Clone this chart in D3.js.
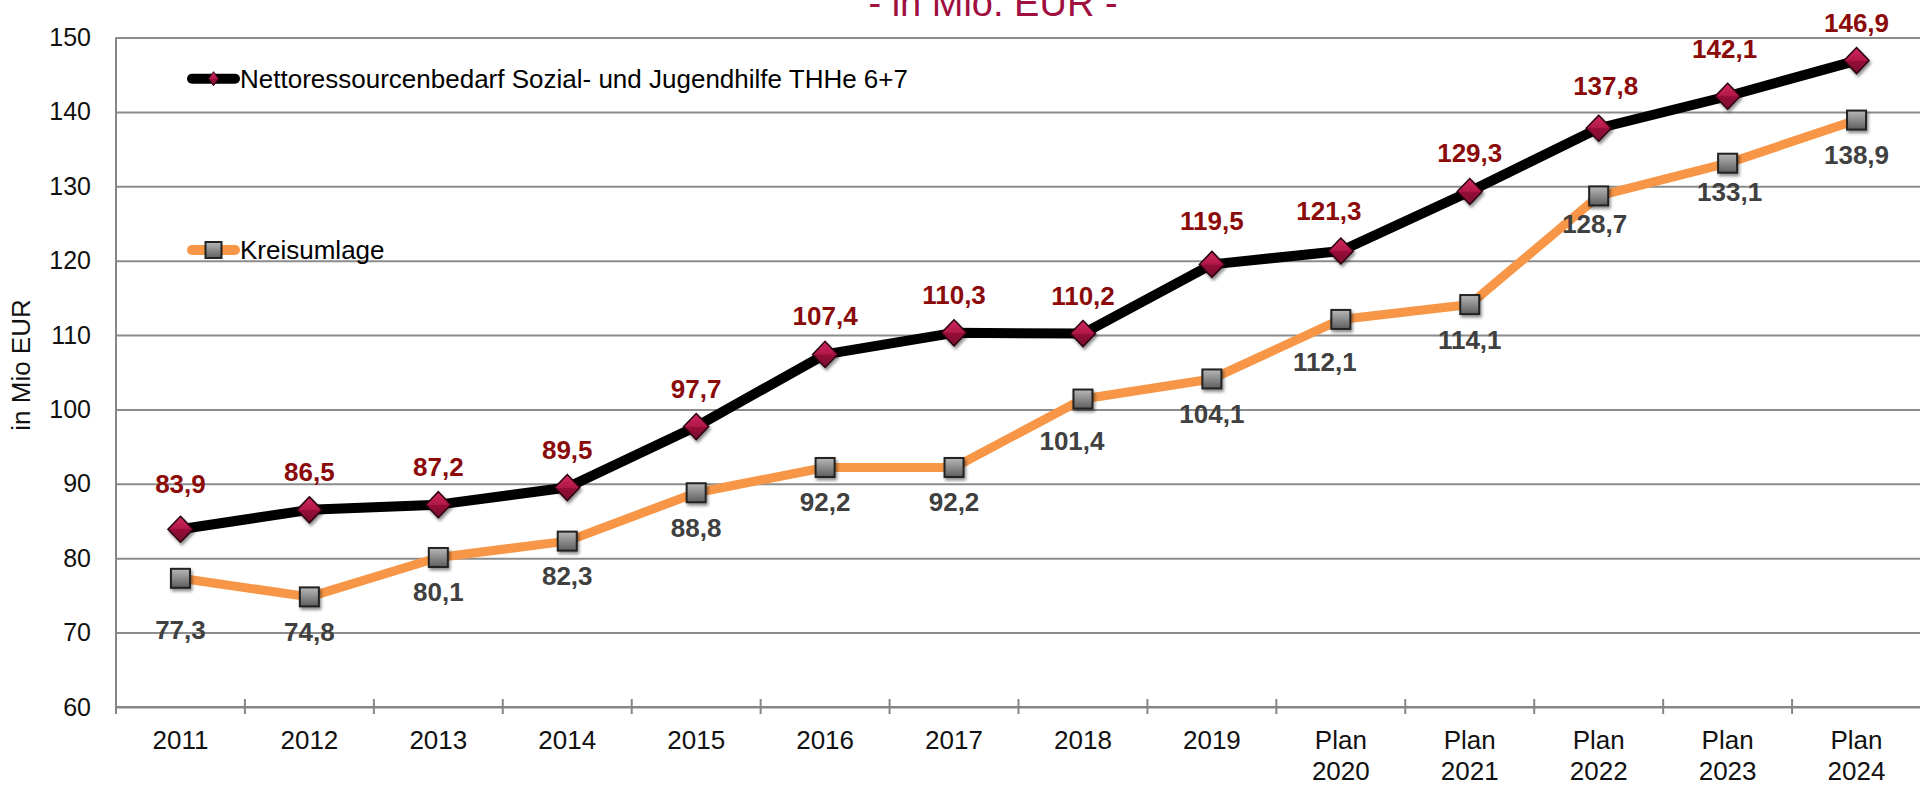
<!DOCTYPE html>
<html>
<head>
<meta charset="utf-8">
<script src="https://cdn.jsdelivr.net/npm/d3@7"></script>
<style>
  body { margin: 0; background: #fff; }
  text { font-family: "Liberation Sans", Arial, sans-serif; }
</style>
</head>
<body>
<div id="chart"></div>
<script>
// chart data
const categories = ["2011", "2012", "2013", "2014", "2015", "2016", "2017", "2018", "2019",
    "Plan 2020", "Plan 2021", "Plan 2022", "Plan 2023", "Plan 2024"];
const nettoValues = [83.9, 86.5, 87.2, 89.5, 97.7, 107.4, 110.3, 110.2, 119.5, 121.3, 129.3, 137.8, 142.1, 146.9];
const kreisValues = [77.3, 74.8, 80.1, 82.3, 88.8, 92.2, 92.2, 101.4, 104.1, 112.1, 114.1, 128.7, 133.1, 138.9];
const yTicks = [60, 70, 80, 90, 100, 110, 120, 130, 140, 150];
const seriesNames = ["Nettoressourcenbedarf Sozial- und Jugendhilfe THHe 6+7", "Kreisumlage"];
const titleText = "- in Mio. EUR -";
const yTitle = "in Mio EUR";

// label tweaks (the original labels were moved by hand here and there)
const nettoNudge = { "2011": [0, -7], "2019": [0, -5], "Plan 2020": [-12, -2], "Plan 2022": [7, -4], "Plan 2023": [-3, -9] };
const kreisNudge = { "2011": [0, 17], "2018": [-11, 7], "Plan 2020": [-16, 8], "Plan 2022": [-4, -7], "Plan 2023": [2, -6] };

const width = 1920, height = 785;
const plotL = 116, plotR = 1921, plotT = 37.5, plotB = 707;

const svg = d3.select('#chart').append('svg')
    .attr('width', width)
    .attr('height', height);

const defs = svg.append('defs');
const dia = defs.append('linearGradient').attr('id', 'diaGrad').attr('x1', 0).attr('y1', 0).attr('x2', 0).attr('y2', 1);
dia.append('stop').attr('offset', '0%').attr('stop-color', '#d22a60');
dia.append('stop').attr('offset', '50%').attr('stop-color', '#b01848');
dia.append('stop').attr('offset', '51%').attr('stop-color', '#960f3a');
dia.append('stop').attr('offset', '100%').attr('stop-color', '#7a0a2c');
const sq = defs.append('linearGradient').attr('id', 'sqGrad').attr('x1', 0).attr('y1', 0).attr('x2', 0).attr('y2', 1);
sq.append('stop').attr('offset', '0%').attr('stop-color', '#b8b8b8');
sq.append('stop').attr('offset', '100%').attr('stop-color', '#5e5e5e');
const shadow = defs.append('filter').attr('id', 'shadow')
    .attr('x', '-50%').attr('y', '-50%').attr('width', '200%').attr('height', '200%');
shadow.append('feDropShadow').attr('dx', 1.5).attr('dy', 2.5).attr('stdDeviation', 1.6)
    .attr('flood-color', '#000').attr('flood-opacity', 0.45);

const x = d3.scaleBand().domain(categories).range([plotL, plotR]).padding(0);
const y = d3.scaleLinear().domain([60, 150]).range([plotB, plotT]);
const cx = d => x(d) + x.bandwidth() / 2;
const fmt = v => d3.format('.1f')(v).replace('.', ',');

// gridlines
svg.append('g')
    .attr('transform', `translate(${plotL},0)`)
    .call(d3.axisLeft(y).tickValues(yTicks).tickSize(-(plotR - plotL)).tickFormat(''))
    .call(g => g.select('.domain').remove())
    .call(g => g.selectAll('line').attr('stroke', '#8c8c8c').attr('stroke-width', 2));

// y axis labels
svg.append('g')
    .attr('transform', `translate(${plotL},0)`)
    .call(d3.axisLeft(y).tickValues(yTicks).tickSize(0).tickPadding(25))
    .call(g => g.select('.domain').remove())
    .call(g => g.selectAll('text')
        .attr('font-size', 25).attr('fill', '#111')
        .style('font-family', '"Liberation Sans", Arial, sans-serif'));

// y axis line
svg.append('line')
    .attr('x1', plotL).attr('x2', plotL)
    .attr('y1', plotT).attr('y2', plotB + 7)
    .attr('stroke', '#868686').attr('stroke-width', 2);

// x axis line + crossing ticks at band edges
svg.append('line')
    .attr('x1', plotL).attr('x2', plotR)
    .attr('y1', plotB).attr('y2', plotB)
    .attr('stroke', '#868686').attr('stroke-width', 2);
svg.append('g').selectAll('line')
    .data(categories.slice(1))
    .enter().append('line')
    .attr('x1', d => x(d)).attr('x2', d => x(d))
    .attr('y1', plotB - 8).attr('y2', plotB + 7)
    .attr('stroke', '#868686').attr('stroke-width', 2);

// category labels
const xl = svg.append('g').selectAll('text')
    .data(categories)
    .enter().append('text')
    .attr('text-anchor', 'middle')
    .attr('font-size', 26)
    .attr('fill', '#111')
    .attr('x', d => cx(d))
    .attr('y', plotB + 42);
xl.each(function (d) {
    const parts = d.split(' ');
    const t = d3.select(this);
    parts.forEach((p, i) => {
        t.append('tspan').attr('x', cx(d)).attr('dy', i === 0 ? 0 : 31).text(p);
    });
});

// y title
svg.append('text')
    .attr('transform', 'translate(30,365) rotate(-90)')
    .attr('text-anchor', 'middle')
    .attr('font-size', 26)
    .attr('fill', '#111')
    .text(yTitle);

// chart title (cut at the top edge)
svg.append('text')
    .attr('x', 993).attr('y', 16)
    .attr('text-anchor', 'middle')
    .attr('font-size', 38)
    .attr('fill', '#a0103f')
    .text(titleText);

// lines
const line = (vals) => d3.line()
    .x((d, i) => cx(categories[i]))
    .y(d => y(d))(vals);

svg.append('path')
    .attr('d', line(kreisValues))
    .attr('fill', 'none')
    .attr('stroke', '#f79646')
    .attr('stroke-width', 9)
    .attr('stroke-linejoin', 'round');

svg.append('path')
    .attr('d', line(nettoValues))
    .attr('fill', 'none')
    .attr('stroke', '#000')
    .attr('stroke-width', 10)
    .attr('stroke-linejoin', 'round');

// markers
svg.append('g').selectAll('rect')
    .data(kreisValues)
    .enter().append('rect')
    .attr('x', (d, i) => cx(categories[i]) - 9.5)
    .attr('y', d => y(d) - 9.5)
    .attr('width', 19).attr('height', 19)
    .attr('fill', 'url(#sqGrad)')
    .attr('stroke', '#222')
    .attr('stroke-width', 2)
    .attr('filter', 'url(#shadow)');

svg.append('g').selectAll('path')
    .data(nettoValues)
    .enter().append('path')
    .attr('d', 'M0,-13L12.5,0L0,13L-12.5,0Z')
    .attr('transform', (d, i) => `translate(${cx(categories[i])},${y(d)})`)
    .attr('fill', 'url(#diaGrad)')
    .attr('stroke', '#2a0010')
    .attr('stroke-width', 1.5)
    .attr('filter', 'url(#shadow)');

// data labels
svg.append('g').selectAll('text')
    .data(nettoValues)
    .enter().append('text')
    .attr('text-anchor', 'middle')
    .attr('dominant-baseline', 'central')
    .attr('font-size', 26)
    .attr('font-weight', 'bold')
    .attr('fill', '#8b0a0a')
    .attr('x', (d, i) => cx(categories[i]) + (nettoNudge[categories[i]] || [0, 0])[0])
    .attr('y', (d, i) => y(d) - 38 + (nettoNudge[categories[i]] || [0, 0])[1])
    .text(d => fmt(d));

svg.append('g').selectAll('text')
    .data(kreisValues)
    .enter().append('text')
    .attr('text-anchor', 'middle')
    .attr('dominant-baseline', 'central')
    .attr('font-size', 26)
    .attr('font-weight', 'bold')
    .attr('fill', '#404040')
    .attr('x', (d, i) => cx(categories[i]) + (kreisNudge[categories[i]] || [0, 0])[0])
    .attr('y', (d, i) => y(d) + 35 + (kreisNudge[categories[i]] || [0, 0])[1])
    .text(d => fmt(d));

// legend
const legend = svg.append('g');
const legY = [78.7, 250];
legend.append('line')
    .attr('x1', 192).attr('x2', 235).attr('y1', legY[0]).attr('y2', legY[0])
    .attr('stroke', '#000').attr('stroke-width', 10).attr('stroke-linecap', 'round');
legend.append('path')
    .attr('d', 'M0,-7L5,0L0,7L-5,0Z')
    .attr('transform', `translate(213.5,${legY[0]})`)
    .attr('fill', 'url(#diaGrad)').attr('stroke', '#2a0010').attr('stroke-width', 1);
legend.append('line')
    .attr('x1', 192).attr('x2', 235).attr('y1', legY[1]).attr('y2', legY[1])
    .attr('stroke', '#f79646').attr('stroke-width', 10).attr('stroke-linecap', 'round');
legend.append('rect')
    .attr('x', 213.5 - 8).attr('y', legY[1] - 8).attr('width', 16).attr('height', 16)
    .attr('fill', 'url(#sqGrad)').attr('stroke', '#222').attr('stroke-width', 2);
legend.selectAll('text.leg')
    .data(seriesNames)
    .enter().append('text')
    .attr('class', 'leg')
    .attr('x', 240)
    .attr('y', (d, i) => legY[i])
    .attr('dominant-baseline', 'central')
    .attr('font-size', 26)
    .attr('fill', '#000')
    .text(d => d);
</script>
</body>
</html>
